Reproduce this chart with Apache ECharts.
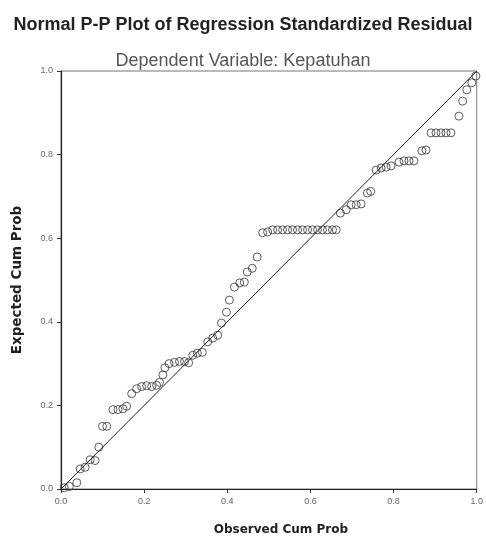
<!DOCTYPE html>
<html>
<head>
<meta charset="utf-8">
<script src="https://cdn.jsdelivr.net/npm/echarts@6/dist/echarts.min.js"></script>
<style>
  html, body { margin: 0; padding: 0; background: #fff; }
  #chart { width: 486px; height: 541px; }
</style>
</head>
<body>
<div id="chart"></div>
<script>
// observed cumulative probability (x) and expected cumulative probability (y)
const observed = [
  0.008, 0.020, 0.038, 0.046, 0.058, 0.070, 0.082, 0.091, 0.100, 0.110,
  0.125, 0.137, 0.149, 0.158, 0.170, 0.182, 0.194, 0.206, 0.218, 0.230,
  0.237, 0.245, 0.250, 0.260, 0.273, 0.285, 0.297, 0.307, 0.317, 0.328,
  0.340, 0.353, 0.365, 0.377, 0.386, 0.398, 0.405, 0.417, 0.430, 0.441,
  0.448, 0.460, 0.472, 0.485, 0.497, 0.509, 0.521, 0.533, 0.545, 0.557,
  0.569, 0.581, 0.593, 0.605, 0.617, 0.629, 0.641, 0.653, 0.662, 0.672,
  0.686, 0.698, 0.710, 0.722, 0.737, 0.745, 0.758, 0.770, 0.782, 0.794,
  0.813, 0.825, 0.837, 0.849, 0.868, 0.878, 0.890, 0.902, 0.914, 0.926,
  0.938, 0.957, 0.966, 0.976, 0.988, 0.998
]
const expected = [
  0.003, 0.006, 0.015, 0.048, 0.052, 0.070, 0.068, 0.100, 0.150, 0.150,
  0.190, 0.190, 0.192, 0.198, 0.228, 0.240, 0.245, 0.247, 0.245, 0.248,
  0.255, 0.273, 0.290, 0.300, 0.303, 0.305, 0.305, 0.302, 0.320, 0.325,
  0.327, 0.352, 0.361, 0.368, 0.397, 0.423, 0.452, 0.483, 0.493, 0.495,
  0.519, 0.528, 0.555, 0.613, 0.615, 0.620, 0.620, 0.620, 0.620, 0.620,
  0.620, 0.620, 0.620, 0.620, 0.620, 0.620, 0.620, 0.620, 0.620, 0.660,
  0.668, 0.680, 0.680, 0.682, 0.708, 0.712, 0.763, 0.768, 0.770, 0.773,
  0.782, 0.785, 0.785, 0.785, 0.809, 0.811, 0.852, 0.852, 0.852, 0.852,
  0.852, 0.892, 0.928, 0.955, 0.972, 0.988
]
// diagonal reference line
const refLine = [[0, 0], [1, 1]]
const tickValues = [0, 0.2, 0.4, 0.6, 0.8, 1.0]

const chart = echarts.init(document.getElementById('chart'), null, { renderer: 'canvas' })

const axisCommon = {
  type: 'value',
  min: 0,
  max: 1,
  interval: 0.2,
  splitLine: { show: false },
  axisLine: { show: true, lineStyle: { color: '#222', width: 1.2 } },
  axisTick: { show: true, length: 4, lineStyle: { color: '#333' } },
  axisLabel: {
    color: '#666',
    fontSize: 9,
    fontFamily: 'Liberation Sans',
    formatter: (v) => tickValues.includes(+v.toFixed(1)) ? v.toFixed(1) : ''
  },
  nameLocation: 'middle',
  nameTextStyle: {
    color: '#222',
    fontSize: 12,
    fontWeight: 'bold',
    fontFamily: 'DejaVu Sans'
  }
}

chart.setOption({
  backgroundColor: '#fff',
  animation: false,
  title: [
    {
      text: 'Normal P-P Plot of Regression Standardized Residual',
      left: 'center',
      top: 11,
      textStyle: { color: '#222', fontSize: 18, fontWeight: 'bold', fontFamily: 'Liberation Sans' }
    },
    {
      text: 'Dependent Variable: Kepatuhan',
      left: 'center',
      top: 47,
      textStyle: { color: '#555', fontSize: 18, fontWeight: 'normal', fontFamily: 'Liberation Sans' }
    }
  ],
  grid: {
    left: 61, right: 8, top: 71, bottom: 52,
    show: true,
    borderColor: '#777',
    borderWidth: 1
  },
  xAxis: Object.assign({}, axisCommon, {
    name: 'Observed Cum Prob',
    nameGap: 35,
    nameTextStyle: Object.assign({}, axisCommon.nameTextStyle, { padding: [0, 0, 0, 24] })
  }),
  yAxis: Object.assign({}, axisCommon, {
    name: 'Expected Cum Prob',
    nameGap: 37,
    nameTextStyle: Object.assign({}, axisCommon.nameTextStyle, { fontSize: 13.5 })
  }),
  series: [
    {
      type: 'line',
      data: refLine,
      symbol: 'none',
      lineStyle: { color: '#222', width: 1 },
      silent: true
    },
    {
      type: 'scatter',
      data: observed.map((x, i) => [x, expected[i]]),
      symbol: 'circle',
      symbolSize: 8,
      itemStyle: { color: 'rgba(255,255,255,0)', borderColor: '#333', borderWidth: 1 }
    }
  ]
})
</script>
</body>
</html>
